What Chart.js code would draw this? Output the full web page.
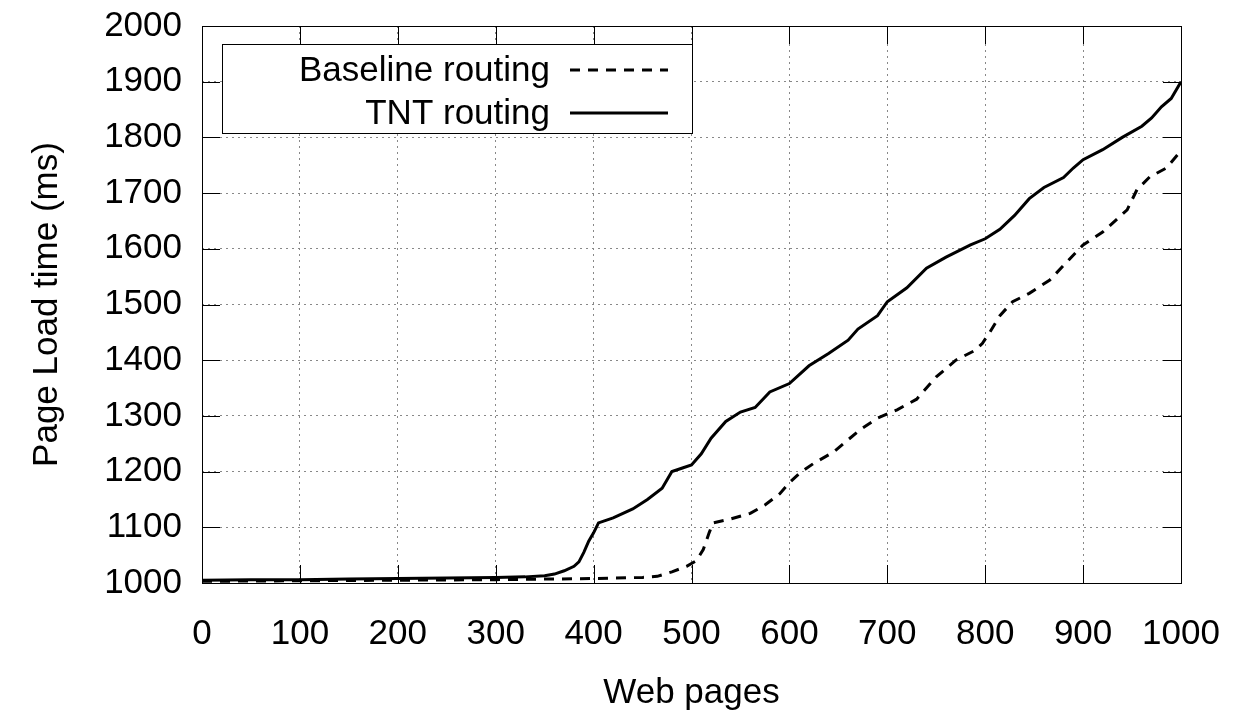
<!DOCTYPE html>
<html>
<head>
<meta charset="utf-8">
<script src="https://cdn.jsdelivr.net/npm/chart.js@4.4.0/dist/chart.umd.min.js"></script>
<style>
  html, body { margin: 0; padding: 0; background: #fff; }
</style>
</head>
<body>
<canvas id="myChart" width="1258" height="716"></canvas>
<script>
// web page index (x) and load time in ms (y)
var tntPages = [0,50,100,150,200,250,300,330,350,360,370,380,385,390,395,400,405,420,440,455,470,480,490,500,510,520,535,550,565,580,600,620,640,660,670,690,700,720,740,760,785,800,815,830,845,860,880,890,900,920,940,960,970,980,990,1000];
var tntTimes = [1005,1006,1006,1007,1008,1009,1010,1011,1013,1016,1022,1030,1038,1055,1075,1090,1108,1117,1133,1150,1170,1200,1206,1212,1232,1260,1290,1307,1315,1343,1358,1390,1412,1436,1456,1480,1505,1530,1565,1585,1607,1618,1635,1660,1690,1710,1728,1745,1760,1778,1800,1820,1835,1855,1870,1900];

var basePages = [0,100,200,300,400,450,465,480,495,505,512,518,522,540,560,575,590,600,611,625,645,672,690,710,730,750,770,790,797,805,815,828,845,866,880,900,920,945,955,968,985,1000];
var baseTimes = [1003,1004,1005,1006,1008,1010,1012,1020,1030,1040,1060,1090,1108,1115,1125,1140,1160,1180,1198,1215,1235,1275,1296,1311,1330,1370,1400,1418,1430,1451,1480,1505,1520,1544,1570,1607,1630,1670,1706,1729,1745,1776];

var seriesNames = ["Baseline routing", "TNT routing"];

function toPoints(xs, ys) {
  return xs.map(function(x, i) { return {x: x, y: ys[i]}; });
}

var FONT = "'Liberation Sans', Arial, Helvetica, sans-serif";

// gnuplot style frame with inward tick marks
var framePlugin = {
  id: 'frame',
  afterDatasetsDraw: function(chart) {
    var ctx = chart.ctx, a = chart.chartArea;
    var xs = chart.scales.x, ys = chart.scales.y;
    var len = 18;
    ctx.save();
    ctx.strokeStyle = '#000';
    ctx.lineWidth = 1;
    ctx.beginPath();
    xs.ticks.forEach(function(t) {
      var px = Math.round(xs.getPixelForValue(t.value)) + 0.5;
      ctx.moveTo(px, a.bottom); ctx.lineTo(px, a.bottom - len);
      ctx.moveTo(px, a.top); ctx.lineTo(px, a.top + len);
    });
    ys.ticks.forEach(function(t) {
      var py = Math.round(ys.getPixelForValue(t.value)) + 0.5;
      ctx.moveTo(a.left, py); ctx.lineTo(a.left + len, py);
      ctx.moveTo(a.right, py); ctx.lineTo(a.right - len, py);
    });
    ctx.stroke();
    ctx.strokeRect(Math.round(a.left) + 0.5, Math.round(a.top) + 0.5,
                   Math.round(a.right - a.left), Math.round(a.bottom - a.top));
    ctx.restore();
  }
};

// legend box in the top-left corner, text right-aligned, sample on the right
var legendPlugin = {
  id: 'boxLegend',
  afterDraw: function(chart) {
    var ctx = chart.ctx, a = chart.chartArea;
    var bx = a.left + 20, by = a.top + 18, bw = 470, bh = 89;
    ctx.save();
    ctx.fillStyle = '#fff';
    ctx.fillRect(bx, by, bw, bh);
    ctx.strokeStyle = '#000';
    ctx.lineWidth = 1;
    ctx.strokeRect(bx + 0.5, by + 0.5, bw, bh);
    ctx.font = '35px ' + FONT;
    ctx.textAlign = 'right';
    ctx.textBaseline = 'middle';
    chart.data.datasets.forEach(function(ds, i) {
      var cy = by + 26 + i * 43;
      ctx.fillStyle = '#000';
      ctx.fillText(ds.label, bx + 328, cy + 1);
      ctx.beginPath();
      ctx.setLineDash(ds.borderDash || []);
      ctx.lineWidth = ds.borderWidth;
      ctx.strokeStyle = ds.borderColor;
      ctx.moveTo(bx + 348, cy);
      ctx.lineTo(bx + 446, cy);
      ctx.stroke();
    });
    ctx.restore();
  }
};

function plain(v) { return String(v); }

var myChart = new Chart("myChart", {
  type: "line",
  data: {
    datasets: [{
      label: seriesNames[0],
      data: toPoints(basePages, baseTimes),
      borderColor: "#000",
      borderWidth: 3,
      borderDash: [10, 8],
      pointRadius: 0,
      tension: 0,
      fill: false
    }, {
      label: seriesNames[1],
      data: toPoints(tntPages, tntTimes),
      borderColor: "#000",
      borderWidth: 3,
      pointRadius: 0,
      tension: 0,
      fill: false
    }]
  },
  options: {
    responsive: false,
    animation: false,
    layout: { padding: { left: 0, right: 77, top: 26, bottom: 0 } },
    plugins: {
      legend: { display: false },
      tooltip: { enabled: false }
    },
    scales: {
      x: {
        type: 'linear',
        min: 0, max: 1000,
        ticks: { stepSize: 100, color: '#000', padding: 30, callback: plain, font: { size: 35, family: FONT } },
        grid: { color: '#888', lineWidth: 1, drawTicks: false },
        border: { display: false, dash: [2, 4] },
        title: { display: true, text: 'Web pages', color: '#000', padding: { top: 0, bottom: 2 }, font: { size: 35, family: FONT } },
        afterFit: function(s) { s.height = 133; s.paddingLeft = 0; s.paddingRight = 0; }
      },
      y: {
        min: 1000, max: 2000,
        ticks: { stepSize: 100, color: '#000', padding: 20, callback: plain, font: { size: 35, family: FONT } },
        grid: { color: '#888', lineWidth: 1, drawTicks: false },
        border: { display: false, dash: [2, 4] },
        title: { display: true, text: 'Page Load time (ms)', color: '#000', padding: { top: 26, bottom: 0 }, font: { size: 35, family: FONT } },
        afterFit: function(s) { s.width = 202; s.paddingTop = 0; s.paddingBottom = 0; }
      }
    }
  },
  plugins: [framePlugin, legendPlugin]
});
</script>
</body>
</html>
